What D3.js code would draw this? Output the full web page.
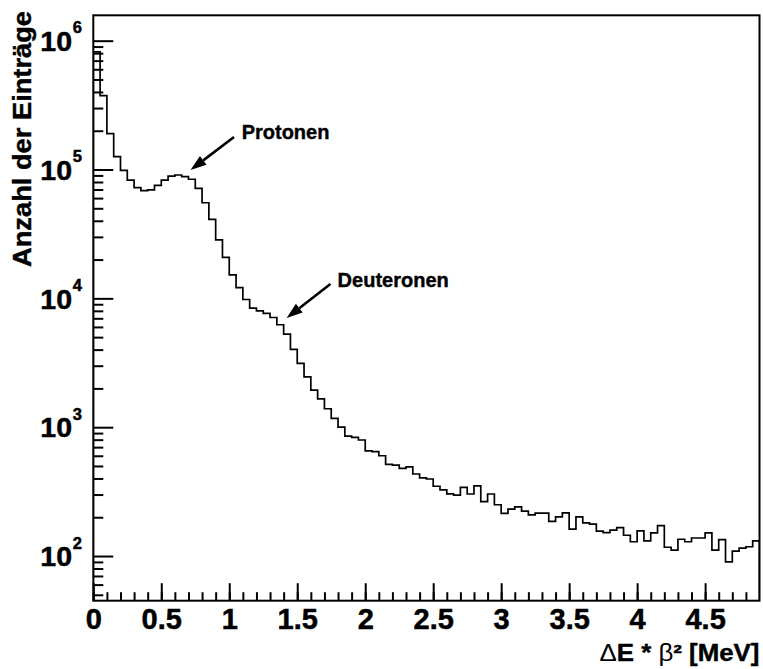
<!DOCTYPE html>
<html>
<head>
<meta charset="utf-8">
<script src="https://cdn.jsdelivr.net/npm/d3@7"></script>
<style>
  html, body { margin: 0; padding: 0; background: #fff; }
  svg { display: block; font-family: "Liberation Sans", Arial, Helvetica, sans-serif; }
</style>
</head>
<body>
<svg id="chart" width="763" height="669"></svg>
<script>
// Histogram of dE * beta^2, 98 bins of 0.05 MeV from 0 to 4.9 MeV
const xMin = 0;
const xMax = 4.9;
const binWidth = 0.05;
const counts = [
  820000, 374000, 190000, 126000, 98600, 82800, 72300, 68500, 69600, 75400,
  82800, 89000, 90700, 88000, 84000, 71400, 55200, 41000, 28400, 20800,
  15200, 12100, 9800, 8410, 8000, 7650, 7100, 6240, 5280, 4020,
  3130, 2460, 1940, 1660, 1390, 1170, 1000, 853, 833, 795,
  656, 645, 600, 514, 508, 479, 492, 433, 404, 396,
  348, 326, 304, 297, 341, 303, 350, 264, 303, 250,
  214, 231, 241, 223, 209, 215, 215, 186, 201, 216,
  162, 201, 181, 177, 156, 152, 159, 166, 145, 129,
  157, 131, 151, 172, 117, 111, 135, 129, 138, 138,
  151, 111, 134, 90, 109, 115, 118, 131
];

// axis range and ticks
const yMin = 45;
const yMax = 1.574e6;
const xMajorTicks = [0, 0.5, 1, 1.5, 2, 2.5, 3, 3.5, 4, 4.5];
const xMajorLabels = ["0", "0.5", "1", "1.5", "2", "2.5", "3", "3.5", "4", "4.5"];
const xMinorStep = 0.1;
const yDecades = [1e2, 1e3, 1e4, 1e5, 1e6];
const yDecadeExponents = ["2", "3", "4", "5", "6"];

// annotations: label, arrow tip [x, y], arrow tail [x, y], label anchor [x, y]
const annotations = [
  { text: "Protonen",   tip: [0.715, 9.9e4], tail: [1.035, 1.789e5], at: [1.091, 1.72e5] },
  { text: "Deuteronen", tip: [1.422, 7040],  tail: [1.744, 12930],   at: [1.797, 12190] }
];

const xTitle = ["\u0394", "E * ", "\u03b2", "\u00b2 [MeV]"];
const yTitle = "Anzahl der Einträge";

const frame = { left: 93.3, right: 759.5, top: 15.3, bottom: 600.7 };

const svg = d3.select("#chart");

const x = d3.scaleLinear().domain([xMin, xMax]).range([frame.left, frame.right]);
const y = d3.scaleLog().domain([yMin, yMax]).range([frame.bottom, frame.top]);

// clip region
svg.append("defs").append("clipPath").attr("id", "frameClip")
  .append("rect")
  .attr("x", frame.left).attr("y", frame.top)
  .attr("width", frame.right - frame.left)
  .attr("height", frame.bottom - frame.top);

// histogram outline
const pts = [[xMin, yMin]];
counts.forEach((c, i) => pts.push([xMin + i * binWidth, c]));
pts.push([xMax, counts[counts.length - 1]]);
pts.push([xMax, yMin]);

const stepLine = d3.line()
  .x(d => x(d[0]))
  .y(d => y(d[1]))
  .curve(d3.curveStepAfter);

svg.append("path")
  .attr("clip-path", "url(#frameClip)")
  .attr("d", stepLine(pts))
  .attr("fill", "none")
  .attr("stroke", "#000")
  .attr("stroke-width", 1.7)
  .attr("stroke-linejoin", "miter");

// x axis: minor ticks
const xMinor = d3.range(0, Math.round((xMax - xMin) / xMinorStep) + 1)
  .map(i => +(xMin + i * xMinorStep).toFixed(2))
  .filter(v => v < xMax);

svg.append("g")
  .attr("transform", `translate(0,${frame.bottom})`)
  .call(d3.axisBottom(x).tickValues(xMinor).tickSizeInner(-8.5).tickSizeOuter(0).tickFormat(""))
  .call(g => g.select(".domain").remove())
  .call(g => g.selectAll("line").attr("stroke", "#000").attr("stroke-width", 2));

// x axis: major ticks with labels
svg.append("g")
  .attr("transform", `translate(0,${frame.bottom})`)
  .call(d3.axisBottom(x).tickValues(xMajorTicks).tickSizeInner(-17.5).tickSizeOuter(0)
    .tickPadding(7.5)
    .tickFormat((d, i) => xMajorLabels[i]))
  .call(g => g.select(".domain").remove())
  .call(g => g.selectAll("line").attr("stroke", "#000").attr("stroke-width", 2))
  .call(g => g.selectAll("text")
    .attr("fill", "#000")
    .attr("stroke", "#000")
    .attr("stroke-width", 0.5)
    .style("font-family", '"Liberation Sans", Arial, Helvetica, sans-serif')
    .style("font-weight", "bold")
    .style("font-size", "29px"));

// y axis: minor ticks (2..9 per decade)
const yMinor = [];
for (let e = 1; e <= 6; e++) {
  for (let m = 2; m <= 9; m++) {
    const v = m * Math.pow(10, e);
    if (v > yMin && v < yMax) yMinor.push(v);
  }
}
svg.append("g")
  .attr("transform", `translate(${frame.left},0)`)
  .call(d3.axisLeft(y).tickValues(yMinor).tickSizeInner(-10).tickSizeOuter(0).tickFormat(""))
  .call(g => g.select(".domain").remove())
  .call(g => g.selectAll("line").attr("stroke", "#000").attr("stroke-width", 2));

// y axis: decade ticks
svg.append("g")
  .attr("transform", `translate(${frame.left},0)`)
  .call(d3.axisLeft(y).tickValues(yDecades).tickSizeInner(-20).tickSizeOuter(0).tickFormat(""))
  .call(g => g.select(".domain").remove())
  .call(g => g.selectAll("line").attr("stroke", "#000").attr("stroke-width", 2));

// decade labels 10^n
const yLab = svg.append("g").attr("font-weight", "bold").attr("fill", "#000")
  .attr("stroke", "#000").attr("stroke-width", 0.5);
yDecades.forEach((v, i) => {
  const yy = y(v);
  yLab.append("text")
    .attr("x", 72).attr("y", yy + 10.3)
    .attr("text-anchor", "end")
    .attr("font-size", 28.5)
    .text("10");
  yLab.append("text")
    .attr("x", 72.8).attr("y", yy - 7.3)
    .attr("font-size", 16.5)
    .text(yDecadeExponents[i]);
});

// frame
svg.append("rect")
  .attr("x", frame.left).attr("y", frame.top)
  .attr("width", frame.right - frame.left)
  .attr("height", frame.bottom - frame.top)
  .attr("fill", "none")
  .attr("stroke", "#000")
  .attr("stroke-width", 2);

// axis titles
const xt = svg.append("text")
  .attr("x", 759.5).attr("y", 661)
  .attr("text-anchor", "end")
  .attr("font-size", 23)
  .attr("textLength", 160)
  .attr("lengthAdjust", "spacingAndGlyphs")
  .attr("fill", "#000");
xt.append("tspan").attr("font-weight", "normal").text(xTitle[0]);
xt.append("tspan").attr("font-weight", "bold").attr("stroke", "#000").attr("stroke-width", 0.4).text(xTitle[1]);
xt.append("tspan").attr("font-weight", "normal").text(xTitle[2]);
xt.append("tspan").attr("font-weight", "bold").attr("stroke", "#000").attr("stroke-width", 0.4).text(xTitle[3]);

svg.append("text")
  .attr("transform", "translate(31,11) rotate(-90)")
  .attr("text-anchor", "end")
  .attr("font-size", 25)
  .attr("textLength", 256)
  .attr("lengthAdjust", "spacingAndGlyphs")
  .attr("font-weight", "bold")
  .attr("fill", "#000")
  .attr("stroke", "#000")
  .attr("stroke-width", 0.4)
  .text(yTitle);

// annotations with arrows
const annG = svg.append("g");
annotations.forEach(a => {
  const tx = x(a.tip[0]), ty = y(a.tip[1]);
  const sx = x(a.tail[0]), sy = y(a.tail[1]);
  const ang = Math.atan2(ty - sy, tx - sx);
  const headLen = 16, headHalf = 5.5;
  const bx = tx - headLen * Math.cos(ang), by = ty - headLen * Math.sin(ang);
  annG.append("line")
    .attr("x1", sx).attr("y1", sy).attr("x2", bx).attr("y2", by)
    .attr("stroke", "#000").attr("stroke-width", 2.6);
  annG.append("path")
    .attr("d", `M${tx},${ty}L${bx + headHalf * Math.sin(ang)},${by - headHalf * Math.cos(ang)}L${bx - headHalf * Math.sin(ang)},${by + headHalf * Math.cos(ang)}Z`)
    .attr("fill", "#000");
  annG.append("text")
    .attr("x", x(a.at[0])).attr("y", y(a.at[1]))
    .attr("font-size", 20)
    .attr("font-weight", "bold")
    .attr("fill", "#000")
    .attr("stroke", "#000")
    .attr("stroke-width", 0.4)
    .text(a.text);
});
</script>
</body>
</html>
